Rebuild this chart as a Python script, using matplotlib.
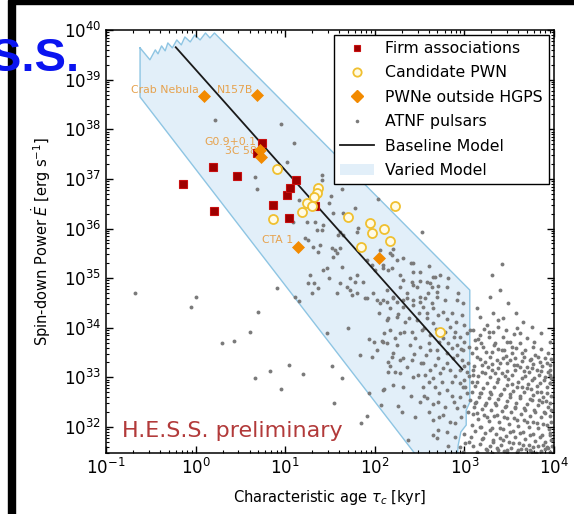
import numpy as np
import matplotlib.pyplot as plt
from matplotlib.patches import Patch, Rectangle
from matplotlib.lines import Line2D

plt.rcParams['font.family'] = ['DejaVu Sans']
plt.rcParams['mathtext.fontset'] = 'dejavusans'

# firm associations (age in kyr, Edot in erg/s)
firm_age = [0.72, 1.56, 1.6, 2.9, 5.5, 4.8, 7.3, 10.5, 11.3, 13.2, 11.0, 21.5]
firm_edot = [7.9e36, 1.7e37, 2.3e36, 1.15e37, 5.4e37, 3.4e37, 3.0e36, 4.8e36,
             6.6e36, 9.5e36, 1.6e36, 2.8e36]

# candidate PWN
cand_age = [8.1, 23.2, 22.6, 21.0, 17.5, 19.9, 15.4, 7.3, 50, 88, 93, 127, 148, 70, 168, 535]
cand_edot = [1.6e37, 6.6e36, 5.3e36, 4.4e36, 3.3e36, 2.9e36, 2.2e36, 1.56e36, 1.7e36,
             1.3e36, 8.1e35, 1.0e36, 5.6e35, 4.2e35, 2.9e36, 8.1e33]

# PWNe outside HGPS
pwn_age = [1.24, 4.8, 5.2, 5.3, 13.9, 111]
pwn_edot = [4.6e38, 5.0e38, 3.9e37, 2.7e37, 4.3e35, 2.5e35]
pwn_names = ['Crab Nebula', 'N157B', 'G0.9+0.1', '3C 58', 'CTA 1', '']
pwn_label_offset = [(-5, 6), (-3, 5), (-3, 8), (-4, 6), (-5, 7), (0, 0)]

# ATNF pulsars, log10(age / kyr) and log10(Edot)
atnf_log_age = [
    0.22, 0.95, 1.10, 1.02, 0.66, 0.69, 1.15, 1.09, 1.24, 1.22, 1.25, 1.31, 1.37, 1.39,
    1.41, 1.41, 1.51, 1.49, 1.53, 1.63, 1.65, 1.78, 2.04, 1.33, 1.42, 1.41, 1.35, 1.61,
    1.65, 1.59, 1.81, 1.80, 1.52, 1.61, 1.56, 1.58, 1.53, 2.53, 2.20, 2.25, 2.17, 2.09,
    2.19, 2.43, 2.50, 1.91, 1.97, 2.00, 2.06, 1.80, 1.72, 1.78, 1.87, 1.63, 1.49, 1.61,
    1.69, 1.72, 1.75, 1.80, 1.91, 1.98, 2.02, 2.06, 2.14, 2.20, 2.25, 2.31, 2.36, 2.43,
    2.50, 2.56, 2.64, 2.67, 2.58, 2.64, 2.69, 2.41, 2.47, 2.31, 1.37, 1.30, 1.58, 0.91,
    1.28, 1.25, 1.42, 1.47, 0.00, -0.05, 0.70, 0.61, 0.43, 0.29, 1.11, 1.15, 1.32, 1.47,
    1.70, 1.83, 1.97, 2.02, 2.09, 2.15, 2.17, 2.10, 1.94, 2.07, 0.83, 1.04, 1.20, 0.66,
    1.52, 1.63, 0.95, 1.54, 1.91, 1.85, 1.94, 1.89, 2.17, 1.99, 2.08, -0.68,
    2.19, 2.09, 2.15, 2.28, 2.43, 2.65, 2.73, 2.82, 2.93, 2.81, 2.62, 2.43, 2.28, 2.14,
    2.09, 2.20, 2.36, 2.50, 2.59, 2.69, 2.78, 2.92, 2.98, 2.17, 2.31, 2.43, 2.54, 2.65,
    2.76, 2.86, 2.97, 2.14, 2.25, 2.34, 2.47, 2.58, 2.65, 2.84, 2.90, 2.95, 3.03, 3.06,
    2.28, 2.41, 2.53, 2.62, 2.76, 2.82, 2.92, 2.98, 2.14, 2.25, 2.39, 2.50, 2.62, 2.69,
    2.81, 2.87, 2.97, 3.04, 2.19, 2.28, 2.41, 2.54, 2.67, 2.76, 2.84, 2.95, 3.03, 2.15,
    2.28, 2.43, 2.56, 2.65, 2.75, 2.86, 2.95, 3.01, 2.31, 2.09, 2.54, 2.67, 2.81, 2.95,
    3.03, 3.06, 2.58, 2.50, 2.71, 2.65, 2.26, 2.92, 2.76, 2.65, 2.90, 2.65, 2.69, 2.37,
    3.01, 2.95,
    3.42, 3.29, 3.49, 3.14, 3.32, 3.43, 3.65, 3.59, 3.17, 3.25, 3.10, 3.17, 3.32, 3.43,
    3.51, 3.62, 3.77, 3.82, 3.92, 3.96, 3.12, 3.21, 3.34, 3.31, 3.42, 3.53, 3.64, 3.73,
    3.14, 3.23, 3.36, 3.48, 3.59, 3.70, 3.81, 3.90, 3.10, 3.20, 3.31, 3.42, 3.53, 3.64,
    3.75, 3.84, 3.96, 3.14, 3.25, 3.36, 3.48, 3.59, 3.70, 3.81, 3.92, 3.08, 3.17, 3.29,
    3.40, 3.51, 3.62, 3.75, 3.87, 3.96, 3.12, 3.23, 3.34, 3.45, 3.56, 3.68, 3.79, 3.90,
    3.14, 3.25, 3.36, 3.48, 3.59, 3.70, 3.81, 3.92, 3.17, 3.29, 3.40, 3.51, 3.62, 3.73,
    3.84, 3.96, 3.21, 3.32, 3.43, 3.54, 3.65, 3.77, 3.88, 3.25, 3.36, 3.48, 3.60, 3.73,
    3.93, 3.40, 3.31,
    # dense old population, lower right
    3.22, 3.38, 3.55, 3.70, 3.86, 3.15, 3.27, 3.47, 3.58, 3.68, 3.79, 3.90, 3.97,
    3.13, 3.24, 3.37, 3.46, 3.57, 3.66, 3.76, 3.87, 3.95, 3.17, 3.29, 3.40, 3.51,
    3.62, 3.72, 3.83, 3.93, 3.11, 3.26, 3.37, 3.47, 3.56, 3.68, 3.78, 3.89, 3.97,
    3.15, 3.28, 3.38, 3.49, 3.60, 3.71, 3.81, 3.92, 3.12, 3.21, 3.33, 3.44, 3.54,
    3.66, 3.77, 3.88, 3.97, 3.16, 3.27, 3.38, 3.48, 3.58, 3.70, 3.82, 3.93, 3.11,
    3.20, 3.30, 3.42, 3.52, 3.63, 3.73, 3.85, 3.96, 3.15, 3.27, 3.39, 3.50, 3.60,
    3.72, 3.82, 3.94, 3.12, 3.23, 3.35, 3.46, 3.57, 3.68, 3.79, 3.90, 3.97, 3.17,
    3.29, 3.41, 3.52, 3.63, 3.75, 3.85, 3.95, 3.14, 3.31, 3.44,
    3.19, 3.33, 3.44, 3.53, 3.64, 3.74, 3.84, 3.93, 3.09, 3.20, 3.31, 3.43, 3.55,
    3.66, 3.75, 3.86, 3.96, 3.10, 3.23, 3.34, 3.45, 3.53, 3.64, 3.74, 3.85, 3.95,
    3.08, 3.18, 3.30, 3.41, 3.51, 3.62, 3.73, 3.83, 3.91, 3.13, 3.24, 3.35, 3.46,
    3.56, 3.67, 3.78, 3.89, 3.97, 3.10, 3.22, 3.33, 3.44, 3.55, 3.66, 3.77, 3.88,
    3.97, 3.09, 3.19, 3.31, 3.43, 3.54, 3.65, 3.76, 3.87, 3.96, 3.07, 3.20, 3.32,
    3.40, 3.50, 3.61, 3.72, 3.82, 3.92, 3.10, 3.24, 3.37, 3.48, 3.59, 3.69, 3.80,
    3.90, 3.98, 3.27, 3.46, 3.62, 3.78, 3.95, 3.38, 3.58, 3.75, 3.85,
    # inside the band, right part
    2.58, 2.70, 2.80, 2.91, 3.00, 2.55, 2.68, 2.78, 2.88, 3.00, 2.60, 2.72, 2.86,
    2.96, 3.05, 2.57, 2.70, 2.80, 2.92, 3.00, 2.62, 2.73, 2.90, 2.99, 3.05, 2.60,
    2.72, 2.86, 2.98, 2.55, 2.78, 2.88, 3.00, 2.60, 2.72, 2.84, 2.96, 3.04, 2.70,
    2.80, 2.90, 3.00, 2.82, 2.98, 3.05,
    # inside the band, middle
    2.05, 2.15, 2.26, 2.38, 2.49, 2.10, 2.22, 2.33, 2.45, 2.20, 2.32, 2.44, 2.52,
    2.23, 2.36, 2.48, 2.20, 2.40, 2.45, 2.30, 2.40, 2.32, 2.60, 2.50, 2.70,
]
atnf_log_edot = [
    38.19, 38.11, 37.72, 37.34, 37.04, 36.80, 36.57, 36.13, 36.13, 35.81, 35.77, 35.63, 35.52, 35.67,
    37.08, 36.98, 36.65, 36.51, 36.31, 36.80, 36.31, 36.41, 36.59, 36.13, 36.07, 35.97, 35.97, 35.93,
    35.87, 35.87, 36.01, 35.93, 35.61, 35.61, 35.57, 35.50, 35.42, 35.93, 35.59, 35.36, 35.50, 35.20,
    35.20, 35.30, 35.12, 35.36, 35.26, 35.16, 35.57, 35.06, 35.00, 34.92, 34.92, 35.22, 35.00, 34.90,
    34.82, 34.76, 34.66, 34.70, 34.60, 34.70, 34.56, 34.50, 34.52, 34.60, 34.52, 34.56, 34.60, 34.56,
    34.52, 34.60, 34.50, 35.02, 34.92, 34.82, 34.72, 34.92, 34.82, 34.96, 34.80, 34.70, 34.70, 34.80,
    35.06, 34.90, 35.16, 35.20, 34.62, 34.42, 34.31, 33.91, 33.73, 33.69, 34.62, 34.54, 34.90, 33.89,
    33.99, 33.45, 33.41, 33.55, 33.71, 33.31, 33.23, 32.76, 32.68, 32.44, 33.13, 33.25, 33.06, 32.98,
    33.23, 32.98, 32.76, 32.48, 32.22, 32.08, 33.77, 34.60, 33.95, 33.71, 33.73, 34.70,
    35.46, 35.26, 35.16, 35.06, 35.12, 35.02, 35.06, 35.00, 34.70, 34.82, 34.90, 34.86, 34.82, 34.76,
    34.56, 34.62, 34.70, 34.62, 34.70, 34.62, 34.56, 34.56, 34.50, 34.40, 34.42, 34.46, 34.42, 34.40,
    34.31, 34.29, 34.25, 34.15, 34.21, 34.11, 34.15, 34.19, 34.09, 34.01, 33.91, 33.81, 33.89, 33.95,
    33.89, 33.91, 33.95, 33.85, 33.79, 33.69, 33.65, 33.55, 33.69, 33.65, 33.65, 33.61, 33.55, 33.55,
    33.49, 33.39, 33.35, 33.29, 33.41, 33.35, 33.35, 33.29, 33.25, 33.19, 33.15, 33.15, 33.10, 33.10,
    33.08, 33.00, 33.04, 32.98, 32.90, 32.90, 32.88, 32.80, 32.80, 32.74, 32.80, 32.80, 32.74, 32.60,
    32.68, 32.54, 32.58, 32.50, 32.50, 32.46, 32.42, 32.38, 32.24, 32.14, 32.08, 31.84, 31.77, 31.73,
    31.67, 31.59,
    35.28, 34.62, 34.50, 34.40, 34.29, 34.19, 34.11, 33.99, 34.21, 34.05, 33.95, 33.85, 33.91, 33.81,
    33.71, 33.69, 33.61, 33.41, 33.29, 33.15, 33.75, 33.61, 33.69, 33.51, 33.55, 33.49, 33.49, 33.35,
    33.41, 33.31, 33.35, 33.29, 33.25, 33.21, 33.15, 33.00, 33.15, 33.10, 33.15, 33.08, 33.04, 32.98,
    32.94, 32.88, 32.88, 32.90, 32.88, 32.90, 32.84, 32.80, 32.78, 32.70, 32.68, 32.70, 32.68, 32.70,
    32.64, 32.60, 32.58, 32.54, 32.50, 32.48, 32.48, 32.44, 32.48, 32.40, 32.38, 32.34, 32.30, 32.28,
    32.28, 32.20, 32.24, 32.18, 32.14, 32.10, 32.08, 32.04, 32.00, 31.94, 31.98, 31.90, 31.88, 31.84,
    31.79, 31.84, 31.77, 31.69, 31.73, 31.67, 31.63, 31.59, 31.63, 31.53, 31.57, 31.53, 31.53, 31.53,
    31.57, 34.76, 35.06,
    # dense old population, lower right
    33.97, 34.02, 33.88, 33.80, 33.58, 33.78, 33.82, 33.72, 33.60, 33.55, 33.45, 33.40, 33.38,
    33.60, 33.52, 33.58, 33.44, 33.40, 33.42, 33.28, 33.22, 33.25, 33.38, 33.42, 33.30, 33.36,
    33.20, 33.10, 33.05, 33.10, 33.22, 33.20, 33.18, 33.12, 33.14, 33.02, 32.98, 32.94, 32.98,
    33.02, 33.00, 32.96, 32.96, 32.90, 32.86, 32.82, 32.80, 32.82, 32.78, 32.80, 32.76, 32.72,
    32.70, 32.64, 32.60, 32.62, 32.60, 32.58, 32.56, 32.52, 32.48, 32.46, 32.44, 32.40, 32.40,
    32.36, 32.34, 32.32, 32.30, 32.26, 32.22, 32.20, 32.22, 32.16, 32.12, 32.10, 32.06, 32.02,
    32.00, 31.98, 31.96, 31.92, 31.88, 31.86, 31.82, 31.80, 31.76, 31.72, 31.70, 31.74, 31.66,
    31.62, 31.64, 31.58, 31.56, 31.50, 31.52, 31.50, 31.50, 31.48, 31.52,
    33.70, 33.66, 33.56, 33.62, 33.34, 33.38, 33.32, 33.50, 33.50, 33.26, 33.28, 33.40, 33.26,
    33.12, 33.18, 33.12, 33.05, 33.05, 33.08, 33.08, 33.02, 32.86, 32.80, 32.76, 32.70, 32.88,
    32.90, 32.68, 32.66, 32.66, 32.66, 32.62, 32.56, 32.54, 32.52, 32.50, 32.48, 32.44, 32.42,
    32.40, 32.38, 32.34, 32.30, 32.34, 32.26, 32.24, 32.22, 32.20, 32.18, 32.14, 32.10, 32.06,
    32.10, 32.04, 32.00, 31.98, 31.96, 31.92, 31.90, 31.86, 31.84, 31.88, 31.80, 31.76, 31.74,
    31.78, 31.70, 31.68, 31.64, 31.62, 31.60, 31.62, 31.56, 31.54, 31.50, 31.50, 31.56, 31.48,
    31.55, 31.62, 33.92, 33.95, 33.90, 33.72, 33.72, 34.15, 34.30, 34.02, 33.90,
    # inside the band, right part
    34.30, 34.25, 34.18, 34.12, 34.05, 34.00, 33.98, 33.92, 33.82, 33.72, 33.70, 33.72, 33.60,
    33.58, 33.62, 33.45, 33.40, 33.30, 33.45, 33.22, 33.15, 33.08, 33.02, 32.95, 33.02, 32.90,
    32.68, 32.62, 32.80, 32.62, 32.40, 32.50, 32.42, 32.30, 32.20, 32.10, 32.20, 32.30, 31.95,
    31.90, 31.80, 31.86, 31.62, 31.50, 31.70,
    # inside the band, middle
    34.30, 34.20, 34.28, 34.20, 34.30, 33.90, 33.80, 33.92, 33.80, 33.50, 33.40, 33.48, 33.30,
    33.10, 33.20, 33.05, 32.85, 32.62, 32.20, 32.30, 35.30, 35.40, 35.25, 34.95, 34.85,
]

# baseline model
baseline_age = [0.6, 950]
baseline_edot = [4.5e39, 1.45e33]

# varied model envelope, log10 values
varied_log_age = [-0.62, -0.51, -0.45, -0.42, -0.38, -0.34, -0.31, -0.26, -0.21, -0.16, -0.12,
                  -0.06, -0.01, 0.05, 0.11, 0.16, 0.21, 3.06, 3.06, 3.02, 3.02, 2.96, 2.93,
                  2.91, 2.59, -0.62]
varied_log_edot = [39.64, 39.40, 39.60, 39.52, 39.68, 39.58, 39.74, 39.64, 39.80, 39.70, 39.86,
                   39.76, 39.90, 39.80, 39.94, 39.84, 39.94, 34.76, 32.50, 32.34, 32.04, 31.90,
                   31.63, 31.13, 31.13, 38.65]

band_face = '#e2eff9'
band_edge = '#8ec5e3'
firm_col = '#9e0000'
cand_edge = '#f0c030'
pwn_col = '#f28a00'
dot_col = '#7a7a7a'

fig = plt.figure(figsize=(5.74, 5.14), dpi=100)
ax = fig.add_axes([0.1847, 0.1187, 0.7805, 0.8229])

va = 10 ** np.array(varied_log_age)
ve = 10 ** np.array(varied_log_edot)
ax.fill(va, ve, facecolor=band_face, edgecolor='none', zorder=1)
ax.plot(np.append(va, va[0]), np.append(ve, ve[0]), color=band_edge, lw=1.0, zorder=1.5)

ax.plot(10 ** np.array(atnf_log_age), 10 ** np.array(atnf_log_edot), 'o', ms=2.8,
        mew=0, color=dot_col, zorder=2)
ax.plot(baseline_age, baseline_edot, '-', color='#1a1a1a', lw=1.3, zorder=3)

for a, e, name, off in zip(pwn_age, pwn_edot, pwn_names, pwn_label_offset):
    if name:
        ax.annotate(name, (a, e), xytext=off, textcoords='offset pixels',
                    ha='right', va='center', fontsize=7.8, color='#e6a24e', zorder=3.5)

ax.plot(firm_age, firm_edot, 's', ms=5.5, mfc=firm_col, mec='#c81010', mew=0.8, zorder=4)
ax.plot(cand_age, cand_edot, 'o', ms=6.5, mfc='#fffbe6', mec=cand_edge, mew=1.3, zorder=4)
ax.plot(pwn_age, pwn_edot, 'D', ms=6, mfc=pwn_col, mec=pwn_col, mew=0.5, zorder=5)

ax.set_xscale('log')
ax.set_yscale('log')
ax.set_xlim(0.1, 1e4)
ax.set_ylim(3e31, 1e40)

ax.tick_params(which='both', direction='in', top=True, right=True, labelsize=12)
ax.tick_params(which='major', length=5, width=1)
ax.tick_params(which='minor', length=2.5, width=0.8)
for s in ax.spines.values():
    s.set_linewidth(1.1)

ax.set_xlabel(r'Characteristic age $\tau_c$ [kyr]', fontsize=10.5, labelpad=7)
ax.set_ylabel(r'Spin-down Power $\dot{E}$ [erg s$^{-1}$]', fontsize=10.5, labelpad=8)

ax.text(0.036, 0.038, 'H.E.S.S. preliminary', transform=ax.transAxes, fontsize=16,
        color='#b23a3a', ha='left', va='baseline')

handles = [
    Line2D([], [], ls='none', marker='s', ms=5, mfc=firm_col, mec='#c81010', mew=0.8),
    Line2D([], [], ls='none', marker='o', ms=6, mfc='#fffbe6', mec=cand_edge, mew=1.3),
    Line2D([], [], ls='none', marker='D', ms=6, mfc=pwn_col, mec=pwn_col),
    Line2D([], [], ls='none', marker='o', ms=2.6, mew=0, color=dot_col),
    Line2D([], [], color='#1a1a1a', lw=1.3),
    Patch(facecolor=band_face, edgecolor='none'),
]
labels = ['Firm associations', 'Candidate PWN', 'PWNe outside HGPS', 'ATNF pulsars',
          'Baseline Model', 'Varied Model']
leg = ax.legend(handles, labels, loc='upper right', fontsize=11.3, numpoints=1,
                fancybox=False, framealpha=1, edgecolor='black', borderaxespad=0.3,
                handlelength=2.2, labelspacing=0.6, handletextpad=0.7)
leg.get_frame().set_linewidth(1.0)
leg.set_zorder(6)

# slide frame and cut-off slide title
fig.patches.append(Rectangle((8 / 574, 0), 7 / 574, 1, transform=fig.transFigure,
                             color='black', zorder=10))
fig.patches.append(Rectangle((13 / 574, 1 - 4 / 514), 1, 4 / 514, transform=fig.transFigure,
                             color='black', zorder=10))
fig.text(80 / 574, 1 - 71 / 514, 'H.E.S.S.', fontsize=34, fontweight='bold',
         family=['Liberation Sans', 'DejaVu Sans'], color='#0a14f0', ha='right',
         va='baseline', zorder=11)

fig.savefig('out.png', dpi=100)
